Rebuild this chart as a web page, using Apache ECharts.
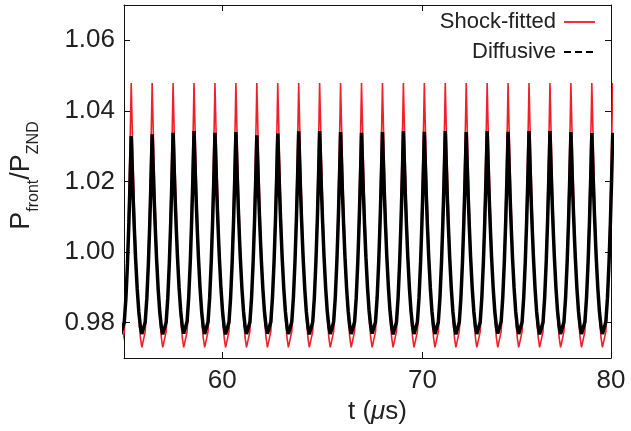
<!DOCTYPE html>
<html><head><meta charset="utf-8">
<script src="https://cdn.jsdelivr.net/npm/echarts@6/dist/echarts.min.js"></script>
<style>html,body{margin:0;padding:0;background:#fff}#c{width:631px;height:431px}</style>
</head><body><div id="c"></div>
<script>
// Peak times (µs) of each oscillation cycle
const peakTimes = [54.404, 55.450, 56.496, 57.542, 58.588, 59.634, 60.680, 61.726, 62.772, 63.818,
  64.864, 65.910, 66.956, 68.002, 69.048, 70.094, 71.140, 72.186, 73.232, 74.278,
  75.324, 76.370, 77.416, 78.462, 79.508];
// Shock-fitted peak / trough values per cycle
const redPeaks = [1.0479, 1.0479, 1.0479, 1.0479, 1.0479, 1.0479, 1.0479, 1.0479, 1.0479, 1.0479,
  1.0479, 1.0479, 1.0479, 1.0479, 1.0479, 1.0479, 1.0479, 1.0479, 1.0479, 1.0479,
  1.0479, 1.0479, 1.0479, 1.0479, 1.0479];
const redTroughs = [0.9725, 0.9725, 0.9725, 0.9725, 0.9725, 0.9725, 0.9725, 0.9725, 0.9725, 0.9725,
  0.9725, 0.9725, 0.9725, 0.9725, 0.9725, 0.9725, 0.9725, 0.9725, 0.9725, 0.9725,
  0.9725, 0.9725, 0.9725, 0.9725, 0.9725];
// Diffusive peak / trough values per cycle
const blackPeaks = [1.0338, 1.0329, 1.0334, 1.0338, 1.0343, 1.0338, 1.0340, 1.0331, 1.0336, 1.0342,
  1.0343, 1.0340, 1.0338, 1.0340, 1.0343, 1.0341, 1.0343, 1.0340, 1.0343, 1.0341,
  1.0343, 1.0343, 1.0340, 1.0337, 1.0338];
const blackTroughs = [0.9764, 0.9764, 0.9763, 0.9765, 0.9764, 0.9763, 0.9764, 0.9765, 0.9764, 0.9763,
  0.9764, 0.9764, 0.9765, 0.9763, 0.9764, 0.9764, 0.9763, 0.9764, 0.9765, 0.9764,
  0.9763, 0.9764, 0.9764, 0.9764, 0.9764];
// One cycle's shape: phase between two peaks, and fraction of amplitude
const shapePhase =    [0, 0.038, 0.086, 0.143, 0.210, 0.287, 0.363, 0.440, 0.507, 0.555, 0.602, 0.669, 0.746, 0.822, 0.889, 0.946, 0.975];
const shapeFraction = [1, 0.87, 0.71, 0.55, 0.385, 0.233, 0.119, 0.043, 0.007, 0, 0.012, 0.066, 0.184, 0.361, 0.564, 0.774, 0.89];
const troughPhase = 0.555;

const xMin = 55.09, xMax = 79.42, yMin = 0.97, yMax = 1.07;

function buildSeries(peaks, troughs) {
  const out = [];
  for (let i = 0; i < peakTimes.length - 1; i++) {
    const t0 = peakTimes[i], t1 = peakTimes[i + 1];
    for (let j = 0; j < shapePhase.length; j++) {
      const p = shapePhase[j];
      const top = p <= troughPhase ? peaks[i] : peaks[i + 1];
      out.push([t0 + p * (t1 - t0), troughs[i] + shapeFraction[j] * (top - troughs[i])]);
    }
  }
  const n = peakTimes.length - 1;
  out.push([peakTimes[n], peaks[n]]);
  return out;
}

const font = "'Liberation Sans', Arial, Helvetica, sans-serif";
const txt = '#222';
const chart = echarts.init(document.getElementById('c'), null, {renderer: 'canvas'});
const axisLine = {show: true, lineStyle: {color: '#111', width: 1}};
chart.setOption({
  animation: false,
  backgroundColor: '#fff',
  textStyle: {fontFamily: font, color: txt},
  grid: {left: 122, right: 20, top: 5, bottom: 73, containLabel: false},
  legend: {
    orient: 'vertical', right: 30, top: 6, align: 'right',
    itemWidth: 31, itemHeight: 10, itemGap: 8,
    textStyle: {fontSize: 22, color: txt, fontFamily: font, padding: [0, 3, 0, 0]},
    data: [
      {name: 'Shock-fitted', itemStyle: {opacity: 0}, lineStyle: {width: 2, color: '#f0303a'}},
      {name: 'Diffusive', itemStyle: {opacity: 0}, lineStyle: {width: 2, color: '#000', type: [7, 4]}}
    ]
  },
  xAxis: [{
    type: 'value', min: xMin, max: xMax, splitNumber: 3, minInterval: 10, maxInterval: 10,
    position: 'bottom',
    axisLine: axisLine,
    axisTick: {show: true, inside: true, length: 6, lineStyle: {color: '#111'}},
    splitLine: {show: false},
    axisLabel: {
      fontSize: 26, color: txt, fontFamily: font, margin: 10,
      showMinLabel: false, showMaxLabel: true,
      formatter: v => (v > 79 ? '80' : String(Math.round(v)))
    },
    name: '{n|t (}{i|μ}{n|s)}', nameLocation: 'middle', nameGap: 36,
    nameTextStyle: {
      padding: [0, 0, 0, 20],
      rich: {
        n: {fontSize: 26, color: txt, fontFamily: font},
        i: {fontSize: 26, color: txt, fontFamily: font, fontStyle: 'italic'}
      }
    }
  }, {
    type: 'value', min: xMin, max: xMax, splitNumber: 3, minInterval: 10, maxInterval: 10,
    position: 'top',
    axisLine: axisLine,
    axisTick: {show: true, inside: true, length: 6, lineStyle: {color: '#111'}},
    splitLine: {show: false},
    axisLabel: {show: false}
  }],
  yAxis: [{
    type: 'value', min: yMin, max: yMax, splitNumber: 5, minInterval: 0.02, maxInterval: 0.02,
    position: 'left',
    axisLine: axisLine,
    axisTick: {show: true, inside: true, length: 6, lineStyle: {color: '#111'}},
    splitLine: {show: false},
    axisLabel: {
      fontSize: 26, color: txt, fontFamily: font, margin: 9,
      showMinLabel: false, showMaxLabel: false,
      formatter: v => v.toFixed(2)
    },
    name: '{a|P}{b|front}{a|/P}{b|ZND}', nameLocation: 'middle', nameGap: 82, nameRotate: 90,
    nameTextStyle: {
      padding: [0, 0, 0, 12],
      rich: {
        a: {fontSize: 27, color: txt, fontFamily: font, lineHeight: 27, verticalAlign: 'top'},
        b: {fontSize: 16, color: txt, fontFamily: font, padding: [18, 0, 0, 0], verticalAlign: 'top'}
      }
    }
  }, {
    type: 'value', min: yMin, max: yMax, splitNumber: 5, minInterval: 0.02, maxInterval: 0.02,
    position: 'right',
    axisLine: axisLine,
    axisTick: {show: true, inside: true, length: 6, lineStyle: {color: '#111'}},
    splitLine: {show: false},
    axisLabel: {show: false}
  }],
  series: [{
    name: 'Shock-fitted', type: 'line', xAxisIndex: 0, yAxisIndex: 0,
    data: buildSeries(redPeaks, redTroughs),
    symbol: 'none', smooth: false, clip: true, z: 2,
    lineStyle: {color: '#f0202a', width: 1.6},
    itemStyle: {color: '#f0303a'}
  }, {
    name: 'Diffusive', type: 'line', xAxisIndex: 0, yAxisIndex: 0,
    data: buildSeries(blackPeaks, blackTroughs),
    symbol: 'none', smooth: false, clip: true, z: 3,
    lineStyle: {color: '#000', width: 3.5},
    itemStyle: {color: '#000'}
  }]
});
</script></body></html>
